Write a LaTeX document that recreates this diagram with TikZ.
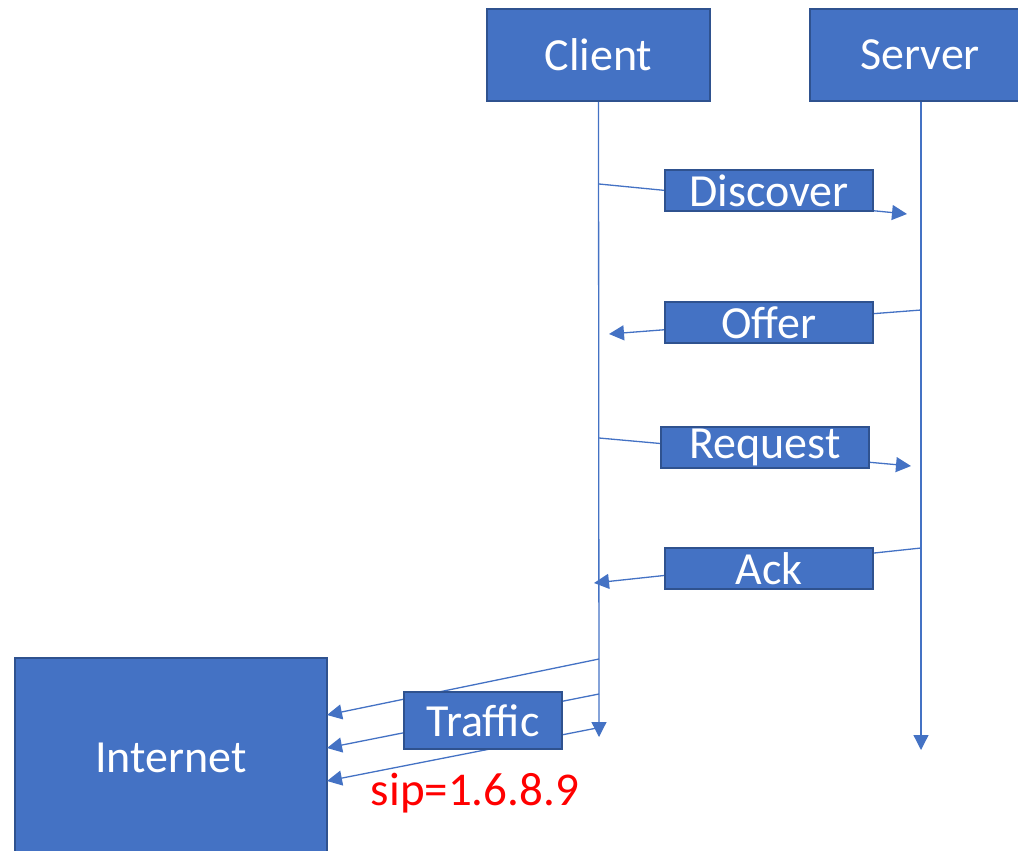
\documentclass[tikz,border=0pt]{standalone}
\usepackage{fontspec}
\setmainfont{Carlito}
\usetikzlibrary{arrows.meta}
\definecolor{ofblue}{HTML}{4472C4}
\definecolor{ofborder}{HTML}{2F528F}
\tikzset{
  box/.style={draw=ofborder, line width=2pt, fill=ofblue, text=white, inner sep=0pt,
    font=\fontsize{46}{54}\selectfont},
  tip/.style={-{Triangle[length=15pt,width=15pt]}},
  lifeline/.style={draw=ofblue, line width=1.3pt, tip},
  msg/.style={draw=ofblue, line width=1.3pt, tip},
  lbl/.style={text=red, font=\fontsize{47}{54}\selectfont, inner sep=0pt}
}
\begin{document}
\begin{tikzpicture}[x=1pt,y=-1pt]
\useasboundingbox (0,0) rectangle (1018,851);
\clip (0,0) rectangle (1018,851);
% lifelines behind boxes
\coordinate (cl-end) at (599,737);
\coordinate (sv-end) at (921,750);
\node[box, minimum width=223pt, minimum height=92pt] (client) at (598.5,55) {Client};
\node[box, minimum width=220pt, minimum height=92pt] (server) at (920,55) {Server};
\draw[lifeline] (client.south) -- (cl-end);
\draw[lifeline] (server.south -| sv-end) -- (sv-end);
% message coordinates
\coordinate (d1) at (599,184); \coordinate (d2) at (907,214);
\coordinate (o1) at (921,310); \coordinate (o2) at (609,334);
\coordinate (r1) at (599,438); \coordinate (r2) at (911,466);
\coordinate (a1) at (921,548); \coordinate (a2) at (594,583);
\draw[msg] (d1) -- (d2);
\draw[msg] (o1) -- (o2);
\draw[msg] (r1) -- (r2);
\draw[msg] (a1) -- (a2);
\node[box, minimum width=208pt, minimum height=41pt] (discover) at (769,190.5) {Discover};
\node[box, minimum width=208pt, minimum height=41pt] (offer) at (769,322.5) {Offer};
\node[box, minimum width=208pt, minimum height=41pt] (request) at (765,447.5) {Request};
\node[box, minimum width=208pt, minimum height=41pt] (ack) at (769,568.5) {Ack};
% internet and traffic
\node[box, minimum width=312pt, minimum height=200pt] (internet) at (171,758) {Internet};
\coordinate (t1) at (599,659); \coordinate (t2) at (599,694); \coordinate (t3) at (597,728);
\coordinate (i1) at (327,715); \coordinate (i2) at (327,748); \coordinate (i3) at (327,781);
\draw[msg] (t1) -- (i1);
\draw[msg] (t2) -- (i2);
\draw[msg] (t3) -- (i3);
\node[box, minimum width=158pt, minimum height=57pt] (traffic) at (483,720.5) {Traffic};
\node[lbl] (sip) at (475,793) {sip=1.6.8.9};
\end{tikzpicture}
\end{document}
